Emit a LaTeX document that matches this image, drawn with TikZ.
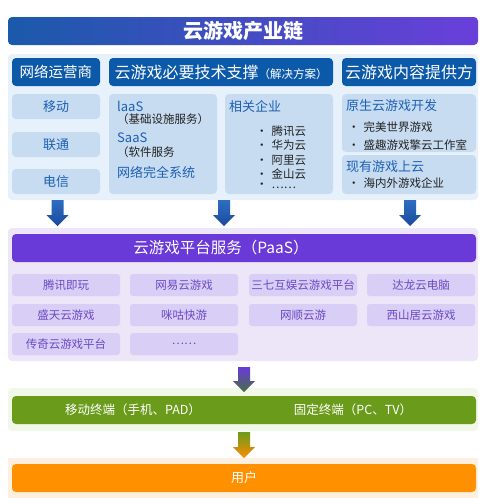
\documentclass[tikz,border=0pt]{standalone}
\usepackage{fontspec}
\setmainfont{Noto Sans CJK SC}
\usetikzlibrary{calc}
\definecolor{titleL}{HTML}{1A5AAA}
\definecolor{titleR}{HTML}{6A3FDA}
\definecolor{hdrblue}{HTML}{0B59A8}
\definecolor{bluebg}{HTML}{E7F1FB}
\definecolor{subblue}{HTML}{C7DCF1}
\definecolor{subtext}{HTML}{1C60B4}
\definecolor{arrTop}{HTML}{2E6EC2}
\definecolor{arrBot}{HTML}{1A4A9E}
\definecolor{purplebg}{HTML}{ECE6F8}
\definecolor{paas}{HTML}{6A3AD8}
\definecolor{gridbox}{HTML}{D9CEF5}
\definecolor{gridtext}{HTML}{6A4AC6}
\definecolor{greenbg}{HTML}{F1F8E8}
\definecolor{greenbar}{HTML}{6A9B1A}
\definecolor{orangebg}{HTML}{FDF0E1}
\definecolor{orangebar}{HTML}{FF9100}
\definecolor{darktext}{HTML}{222222}
\newcommand\fs[1]{\fontsize{#1}{#1}\selectfont}
\newcommand\blockarrow[4]{%
  \shade[top color=#3,bottom color=#4] let \p1=(#1),\p2=(#2) in
    (\x1-6pt,\y1) -- (\x1+6pt,\y1) -- (\x1+6pt,\y2+11pt) -- (\x1+11pt,\y2+11pt)
    -- (\x1,\y2) -- (\x1-11pt,\y2+11pt) -- (\x1-6pt,\y2+11pt) -- cycle;}
\begin{document}
\begin{tikzpicture}[x=1pt,y=-1pt,
  box/.style={anchor=north west, inner sep=0pt, outer sep=0pt, rounded corners=4pt},
  hdr/.style={box, fill=hdrblue, text=white, minimum height=28},
  sub/.style={box, fill=subblue, text=subtext, font=\fs{13}},
  lbl/.style={anchor=west, inner sep=0pt},
  grid/.style={box, rounded corners=3pt, fill=gridbox, text=gridtext, font=\fs{11.5}, minimum width=108, minimum height=22}]
\useasboundingbox (0,0) rectangle (480,498);
\fill[white] (0,0) rectangle (480,498);

% title
\node[box, minimum width=470, minimum height=28, left color=titleL, right color=titleR,
      text=white, font=\bfseries\fs{20}] (title) at (8,17) {云游戏产业链};

% top panel
\node[box, fill=bluebg, minimum width=470, minimum height=146] (tpanel) at (8,54) {};
\node[hdr, minimum width=88, font=\fs{14.5}] (h1) at (12,58) {网络运营商};
\node[hdr, minimum width=224, font=\fs{16}] (h2) at (109,58) {云游戏必要技术支撑{\fs{11.5}（解决方案）}};
\node[hdr, minimum width=134, font=\fs{16}] (h3) at (342,58) {云游戏内容提供方};

\node[sub, minimum width=88, minimum height=25] (s1) at (12,94) {移动};
\node[sub, minimum width=88, minimum height=25] (s2) at (12,132) {联通};
\node[sub, minimum width=88, minimum height=25] (s3) at (12,169) {电信};
\node[sub, minimum width=108, minimum height=100] (s4) at (109,94) {};
\node[sub, minimum width=108, minimum height=100] (s5) at (225,94) {};
\node[sub, minimum width=134, minimum height=58] (s6) at (342,94) {};
\node[sub, minimum width=134, minimum height=39] (s7) at (342,155) {};

% tech support texts
\node[lbl, text=subtext, font=\fs{13}] (t1) at (117,106) {laaS};
\node[lbl, text=darktext, font=\fs{11.5}] (t2) at (117,119) {（基础设施服务）};
\node[lbl, text=subtext, font=\fs{13}] (t3) at (117,138) {SaaS};
\node[lbl, text=darktext, font=\fs{11.5}] (t4) at (117,152) {（软件服务};
\node[lbl, text=subtext, font=\fs{13}] (t5) at (117,172) {网络完全系统};

% companies
\node[lbl, text=subtext, font=\fs{13}] (c0) at (229,106) {相关企业};
\node[lbl, text=darktext, font=\fs{11.5}] (c1) at (256,131) {•\hspace{4pt}腾讯云};
\node[lbl, text=darktext, font=\fs{11.5}] (c2) at (256,145.5) {•\hspace{4pt}华为云};
\node[lbl, text=darktext, font=\fs{11.5}] (c3) at (256,160) {•\hspace{4pt}阿里云};
\node[lbl, text=darktext, font=\fs{11.5}] (c4) at (256,174) {•\hspace{4pt}金山云};
\node[lbl, text=darktext, font=\fs{11.5}] (c5) at (256,186) {•\hspace{4pt}……};

% content providers
\node[lbl, text=subtext, font=\fs{13}] (p0) at (346,106) {原生云游戏开发};
\node[lbl, text=darktext, font=\fs{11.5}] (p1) at (348,127) {•\hspace{4pt}完美世界游戏};
\node[lbl, text=darktext, font=\fs{11.5}] (p2) at (348,145) {•\hspace{4pt}盛趣游戏擎云工作室};
\node[lbl, text=subtext, font=\fs{13}] (p3) at (346,167) {现有游戏上云};
\node[lbl, text=darktext, font=\fs{11.5}] (p4) at (348,183) {•\hspace{4pt}海内外游戏企业};

% PaaS panel
\node[box, fill=purplebg, minimum width=470, minimum height=133] (ppanel) at (8,228) {};
\node[box, fill=paas, minimum width=464, minimum height=28] (paas) at (12,234) {};
\node[text=white, font=\fs{15.5}, inner sep=0pt] (paastext) at (221,248) {云游戏平台服务（PaaS）};

\node[grid] (g11) at (12,274) {腾讯即玩};
\node[grid] (g12) at (130,274) {网易云游戏};
\node[grid] (g13) at (249,274) {三七互娱云游戏平台};
\node[grid] (g14) at (367,274) {达龙云电脑};
\node[grid] (g21) at (12,304) {盛天云游戏};
\node[grid] (g22) at (130,304) {咪咕快游};
\node[grid] (g23) at (249,304) {网顺云游};
\node[grid] (g24) at (367,304) {西山居云游戏};
\node[grid] (g31) at (12,333) {传奇云游戏平台};
\node[grid] (g32) at (130,333) {……};

% terminals
\node[box, fill=greenbg, minimum width=470, minimum height=43] (gpanel) at (8,388) {};
\node[box, fill=greenbar, minimum width=464, minimum height=28] (gbar) at (12,396) {};
\node[text=white, font=\fs{12.5}, inner sep=0pt] (m1) at (133,410) {移动终端（手机、PAD）};
\node[text=white, font=\fs{12.5}, inner sep=0pt] (m2) at (353,410) {固定终端（PC、TV）};

% users
\node[box, fill=orangebg, minimum width=470, minimum height=40, rounded corners=0pt] (opanel) at (8,458) {};
\node[box, fill=orangebar, minimum width=464, minimum height=28, text=white, font=\fs{13}] (obar) at (12,464) {用户};

% arrows
\blockarrow{$(h1.center |- tpanel.south)+(1.5,0)$}{$(h1.center |- ppanel.north)+(1.5,-2)$}{arrTop}{arrBot}
\blockarrow{$(h2.center |- tpanel.south)+(3,0)$}{$(h2.center |- ppanel.north)+(3,-2)$}{arrTop}{arrBot}
\blockarrow{$(h3.center |- tpanel.south)+(1,0)$}{$(h3.center |- ppanel.north)+(1,-2)$}{arrTop}{arrBot}
\blockarrow{$(ppanel.south)+(1,6)$}{$(gpanel.north)+(1,4)$}{paas}{green!35!black!45!gray}
\blockarrow{$(gpanel.south)+(1,1)$}{$(opanel.north)+(1,0)$}{greenbar}{orange!90!yellow}
\end{tikzpicture}
\end{document}
